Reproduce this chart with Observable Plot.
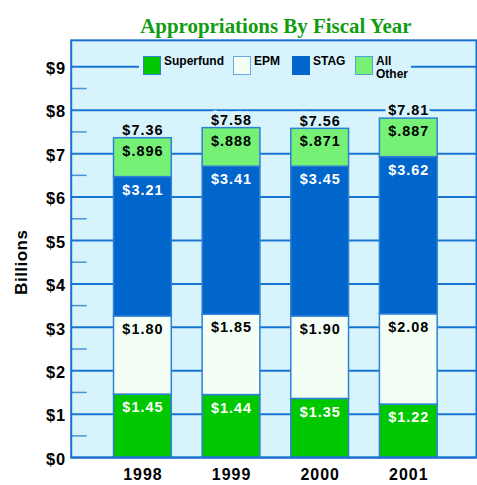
<!DOCTYPE html>
<html><head><meta charset="utf-8">
<script src="https://cdn.jsdelivr.net/npm/d3@7"></script>
<script src="https://cdn.jsdelivr.net/npm/@observablehq/plot@0.6"></script>
<style>
html,body{margin:0;padding:0;background:#fff;overflow:hidden}
#wrap{position:relative;width:477px;height:485px;overflow:hidden}
#wrap svg{position:absolute;left:0;top:0}
#wrap svg text{letter-spacing:1px}
.legend{position:absolute;left:139px;top:52px;width:272px;height:32px;background:#d7f4fd;font:bold 12px "Liberation Sans",Arial,sans-serif;color:#000}
.lg-box{position:absolute;top:4px;width:16px;height:17px;border:1px solid #3a84da}
.lg-text{position:absolute;top:3px;line-height:13px;white-space:nowrap}
</style></head><body><div id="wrap"></div>
<script>
// ---- data ----
const years = ["1998", "1999", "2000", "2001"];
const series = ["Superfund", "EPM", "STAG", "All Other"];
const superfund = [1.45, 1.44, 1.35, 1.22];
const epm = [1.80, 1.85, 1.90, 2.08];
const stag = [3.21, 3.41, 3.45, 3.62];
const allOther = [0.896, 0.888, 0.871, 0.887];
const totals = [7.36, 7.58, 7.56, 7.81];
const yTicks = [0, 1, 2, 3, 4, 5, 6, 7, 8, 9];
const yMinorTicks = [0.5, 1.5, 2.5, 3.5, 4.5, 5.5, 6.5, 7.5, 8.5];
const yMax = 9.61;
const titleText = "Appropriations By Fiscal Year";
const yLabel = "Billions";

// ---- styles ----
const fills = {"Superfund": "#00c800", "EPM": "#f3fff4", "STAG": "#0066cc", "All Other": "#76f176"};
const labelColors = {"Superfund": "#ffffff", "EPM": "#000000", "STAG": "#ffffff", "All Other": "#000000"};
const boxBorders = {"Superfund": "#2f7fd6", "EPM": "#6aa6e6", "STAG": "#0066cc", "All Other": "#55a0e0"};
const panel = "#d7f4fd";
const gridBlue = "#1a74d2";

const valuesBySeries = [superfund, epm, stag, allOther];
const fmt = v => v < 1 ? "$" + String(v).slice(1) : "$" + v.toFixed(2);
const table = [];
years.forEach((year, i) => {
  series.forEach((s, j) => {
    const value = valuesBySeries[j][i];
    table.push({year, series: s, value, label: fmt(value)});
  });
});
const totalsData = years.map((year, i) => ({year, total: totals[i]}));

const chart = Plot.plot({
  width: 479, height: 485,
  marginLeft: 71, marginRight: 1, marginTop: 40, marginBottom: 26,
  style: {fontFamily: '"Liberation Sans", Arial, sans-serif', fontWeight: "bold", background: "transparent", overflow: "visible", color: "#000"},
  x: {domain: years, range: [98.4, 455.1], paddingInner: 0.35, paddingOuter: 0.175, align: 0.5},
  y: {domain: [0, yMax]},
  color: {type: "identity"},
  marks: [
    Plot.frame({fill: panel}),
    Plot.ruleY(yTicks, {stroke: gridBlue, strokeWidth: 2}),
    Plot.axisY(yMinorTicks, {tickSize: -16, tickFormat: () => "", stroke: "#4a8fdc", strokeWidth: 1.5, label: null}),
    Plot.axisY(yTicks, {tickSize: 0, tickPadding: 5, tickFormat: d => "$" + d, fontSize: 16.5, fill: "#000", dy: 2, label: null}),
    Plot.axisX({tickSize: 0, tickPadding: 11, fontSize: 16, fill: "#000", label: null}),
    Plot.text(totalsData, {x: "year", y: "total", text: d => "$" + d.total.toFixed(2), dy: -8, fontSize: 14.5, stroke: panel, strokeWidth: 7, fill: "#000"}),
    Plot.barY(table, Plot.stackY({x: "year", y: "value", fill: d => fills[d.series], stroke: "#2f80d6", strokeWidth: 1.5})),
    Plot.text(table, Plot.stackY2({x: "year", y: "value", text: "label", fill: d => labelColors[d.series], dy: 13, fontSize: 14.5})),
    Plot.frame({stroke: "#1a6fd0", strokeWidth: 2}),
    Plot.text([yLabel], {text: d => d, frameAnchor: "left", rotate: -90, dx: -50, dy: 46, fontSize: 17, fill: "#000"}),
    Plot.text([titleText], {text: d => d, frameAnchor: "top", dx: 2, dy: -22, fontFamily: '"Liberation Serif", "Times New Roman", serif', fontSize: 21, fontWeight: "bold", fill: "#129c12"})
  ]
});

d3.select(chart).selectAll("text").filter(function() { return this.textContent === titleText; }).style("letter-spacing", "0px");
d3.select(chart).selectAll("text").filter(function() { return this.textContent === yLabel; }).style("letter-spacing", "0.5px");

const wrap = document.getElementById("wrap");
wrap.appendChild(chart);

// ---- legend ----
const legend = document.createElement("div");
legend.className = "legend";
const boxX = [4, 94, 153, 216];
series.forEach((s, j) => {
  const box = document.createElement("div");
  box.className = "lg-box";
  box.style.left = boxX[j] + "px";
  box.style.background = fills[s];
  box.style.borderColor = boxBorders[s];
  legend.appendChild(box);
  const t = document.createElement("div");
  t.className = "lg-text";
  t.style.left = (boxX[j] + 21) + "px";
  t.innerHTML = s === "All Other" ? "All<br>Other" : s;
  legend.appendChild(t);
});
wrap.appendChild(legend);
</script>
</body></html>
